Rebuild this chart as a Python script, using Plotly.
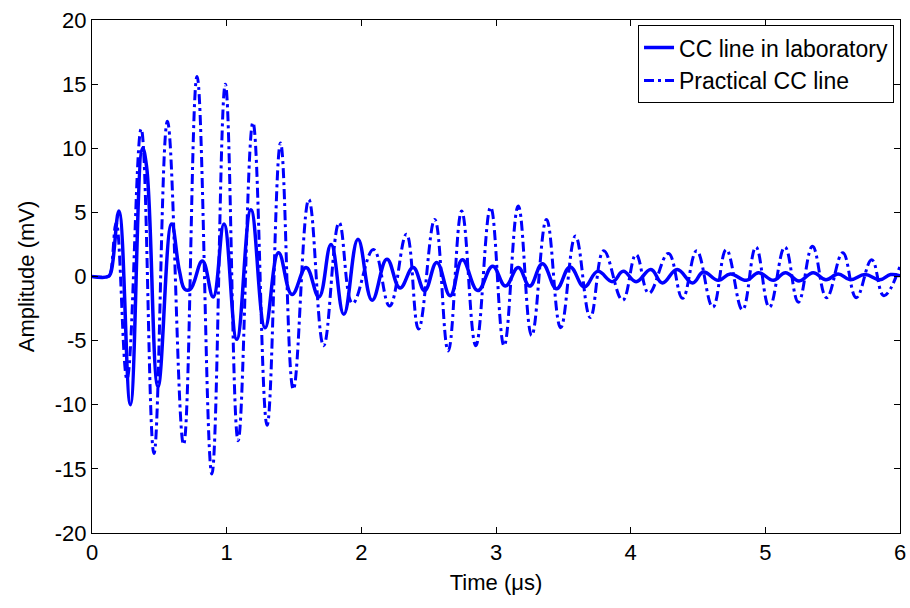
import plotly.graph_objects as go

# Time (us) and amplitude (mV) read at the turning points of each trace
lab_t = [0, 0.12, 0.14, 0.20, 0.285, 0.375, 0.405, 0.49, 0.59, 0.65,
         0.69, 0.73, 0.82, 0.90, 0.98, 1.075, 1.18, 1.285, 1.385, 1.485,
         1.59, 1.685, 1.775, 1.870, 1.975, 2.08, 2.19, 2.287, 2.385, 2.47,
         2.56, 2.66, 2.75, 2.865, 2.975, 3.07, 3.165, 3.25, 3.345, 3.45,
         3.55, 3.655, 3.755, 3.865, 3.945, 4.04, 4.15, 4.235, 4.345, 4.46,
         4.54, 4.65, 4.74, 4.86, 4.95, 5.06, 5.15, 5.25, 5.355, 5.45,
         5.54, 5.63, 5.74, 5.85, 5.93, 6.0]
lab_v = [0, 0, 0.3, 5.1, -10.0, 10.0, 8.6, -8.6, 4.1, 0.4,
         -1.0, -1.0, 1.2, -1.6, 4.1, -4.9, 5.2, -4.0, 1.85, -1.4,
         0.7, -1.6, 2.5, -2.95, 2.9, -1.85, 1.35, -0.9, 0.7, -1.1,
         1.1, -1.5, 1.3, -1.1, 0.8, -0.75, 0.7, -0.75, 1.0, -0.95,
         0.75, -0.8, 0.4, -0.4, 0.4, -0.4, 0.55, -0.5, 0.55, -0.5,
         0.35, -0.3, 0.2, -0.3, 0.3, -0.3, 0.3, -0.35, 0.3, -0.25,
         0.2, -0.25, 0.15, -0.25, 0.15, 0.05]

prac_t = [0, 0.12, 0.135, 0.18, 0.26, 0.365, 0.46, 0.56, 0.68, 0.78,
          0.89, 0.99, 1.085, 1.195, 1.30, 1.40, 1.495, 1.61, 1.72, 1.835,
          1.935, 2.09, 2.21, 2.335, 2.425, 2.545, 2.645, 2.745, 2.85, 2.96,
          3.06, 3.165, 3.265, 3.375, 3.48, 3.59, 3.70, 3.80, 3.94, 4.04,
          4.135, 4.28, 4.385, 4.49, 4.61, 4.71, 4.83, 4.93, 5.03, 5.145,
          5.245, 5.35, 5.455, 5.575, 5.675, 5.79, 5.88, 6.0]
prac_v = [0, 0, 0.2, 4.2, -8.0, 11.5, -13.8, 12.1, -13.1, 15.6,
          -15.4, 15.0, -12.8, 12.0, -11.6, 10.4, -8.8, 6.0, -5.4, 4.2,
          -2.1, 2.1, -2.3, 3.3, -4.1, 4.45, -5.8, 5.1, -5.4, 5.4,
          -5.4, 5.5, -4.6, 4.45, -4.0, 3.15, -3.2, 2.0, -1.85, 1.7,
          -1.3, 1.8, -1.7, 2.0, -2.4, 2.1, -2.6, 2.3, -2.4, 2.3,
          -2.0, 2.35, -1.65, 1.85, -1.65, 1.3, -1.5, 0.8]

x_ticks = [0, 1, 2, 3, 4, 5, 6]
x_tick_labels = ["0", "1", "2", "3", "4", "5", "6"]
y_ticks = [-20, -15, -10, -5, 0, 5, 10, 15, 20]
y_tick_labels = ["-20", "-15", "-10", "-5", "0", "5", "10", "15", "20"]

FONT = "Liberation Sans, Arial, Helvetica, sans-serif"

fig = go.Figure()
fig.add_trace(go.Scatter(
    x=lab_t, y=lab_v, mode="lines", name="CC line in laboratory",
    line=dict(color="#0000FF", width=3.5, shape="spline", smoothing=1.2),
))
fig.add_trace(go.Scatter(
    x=prac_t, y=prac_v, mode="lines", name="Practical CC line",
    line=dict(color="#0000FF", width=3, dash="10px,4px,3px,4px",
              shape="spline", smoothing=1.2),
))

axis_common = dict(
    showgrid=False, zeroline=False, showline=True, linecolor="black",
    linewidth=1, mirror="ticks", ticks="inside", ticklen=6,
    tickcolor="black", automargin=False,
    tickfont=dict(family=FONT, size=22, color="black"),
)

fig.update_layout(
    width=910, height=608,
    margin=dict(l=92, r=10, t=20, b=75),
    paper_bgcolor="white", plot_bgcolor="white",
    font=dict(family=FONT, color="black"),
    xaxis=dict(range=[0, 6], tickvals=x_ticks, ticktext=x_tick_labels,
               title=dict(text="Time (μs)", font=dict(family=FONT, size=22),
                          standoff=10),
               **axis_common),
    yaxis=dict(range=[-20, 20], tickvals=y_ticks, ticktext=y_tick_labels,
               title=dict(text="Amplitude (mV)", font=dict(family=FONT, size=22),
                          standoff=14),
               **axis_common),
    legend=dict(x=0.9926, y=0.99, xanchor="right", yanchor="top",
                bgcolor="white", bordercolor="black", borderwidth=1,
                font=dict(family=FONT, size=23, color="black")),
    showlegend=True,
)

fig.write_html(
    "out.html",
    config={"displayModeBar": False},
    post_script="document.body.style.margin='0';document.body.style.overflow='hidden';",
)
